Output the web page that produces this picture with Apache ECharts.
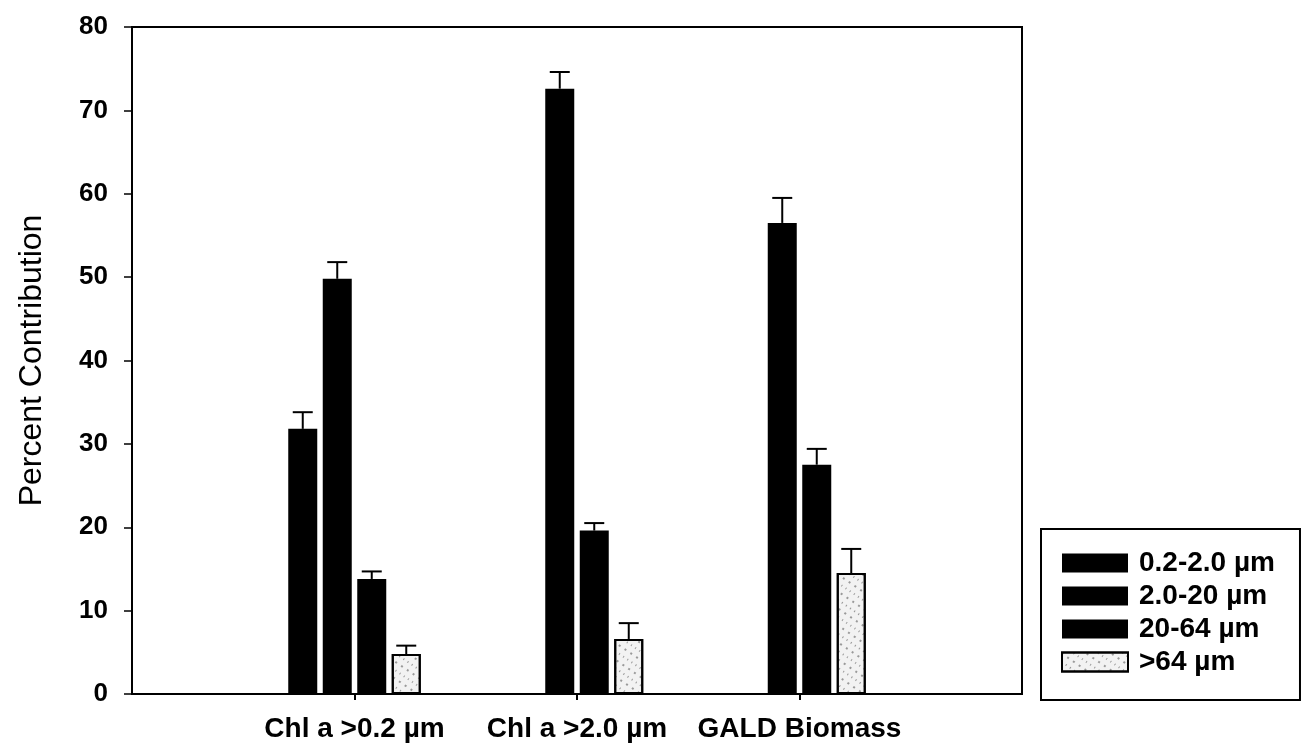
<!DOCTYPE html>
<html>
<head>
<meta charset="utf-8">
<title>Percent Contribution</title>
<script src="https://cdn.jsdelivr.net/npm/echarts@6/dist/echarts.min.js"></script>
<style>
  html, body { margin: 0; padding: 0; background: #fff; }
  #J_chart { width: 1303px; height: 750px; }
</style>
</head>
<body>
<div id="J_chart"></div>
<script>
// categories (empty slots at both ends keep the groups at 1, 2, 3)
var categories = ['', 'Chl a >0.2 \u00b5m', 'Chl a >2.0 \u00b5m', 'GALD Biomass', ''];
var seriesNames = ['0.2-2.0 \u00b5m', '2.0-20 \u00b5m', '20-64 \u00b5m', '>64 \u00b5m'];

// percent contribution per size fraction
var pico = ['-', 31.8, '-', '-', '-'];
var nano = ['-', 49.8, 72.6, 56.5, '-'];
var micro = ['-', 13.8, 19.6, 27.5, '-'];
var meso = ['-', 4.8, 6.6, 14.5, '-'];

// upper error (same units)
var picoErr = ['-', 2.0, '-', '-', '-'];
var nanoErr = ['-', 2.0, 2.0, 3.0, '-'];
var microErr = ['-', 0.9, 0.9, 1.9, '-'];
var mesoErr = ['-', 1.0, 1.9, 2.9, '-'];

var yTicks = [0, 10, 20, 30, 40, 50, 60, 70, 80];

var FONT = 'Arial, "Liberation Sans", sans-serif';
var BAR_W = 29;
var BAR_GAP = 5.5;

var values = [pico, nano, micro, meso];
var errors = [picoErr, nanoErr, microErr, mesoErr];

// error bar data: [category, seriesIndex, value, err]
var errData = [];
for (var s = 0; s < values.length; s++) {
    for (var i = 0; i < categories.length; i++) {
        if (values[s][i] !== '-') {
            errData.push([i, s, values[s][i], errors[s][i]]);
        }
    }
}

var series = [];
for (var k = 0; k < seriesNames.length; k++) {
    var isMeso = (k === 3);
    series.push({
        name: seriesNames[k],
        type: 'bar',
        barWidth: BAR_W,
        barGap: (BAR_GAP / BAR_W * 100) + '%',
        data: values[k],
        itemStyle: isMeso ? {
            color: '#f2f2f2',
            borderColor: '#000',
            borderWidth: 2,
            decal: {
                symbol: 'rect',
                symbolSize: 0.7,
                color: 'rgba(0,0,0,0.7)',
                dashArrayX: [[1, 4], [2, 5]],
                dashArrayY: [2, 5],
                rotation: 0.6
            }
        } : {
            color: '#000'
        }
    });
}

series.push({
    type: 'custom',
    silent: true,
    z: 5,
    data: errData,
    renderItem: function (params, api) {
        var cat = api.value(0);
        var idx = api.value(1);
        var v = api.value(2);
        var e = api.value(3);
        var base = api.coord([cat, v]);
        var top = api.coord([cat, v + e]);
        var x = base[0] + (idx - 1.5) * (BAR_W + BAR_GAP);
        var style = { stroke: '#000', lineWidth: 2 };
        return {
            type: 'group',
            children: [
                { type: 'line', shape: { x1: x, y1: base[1], x2: x, y2: top[1] }, style: style },
                { type: 'line', shape: { x1: x - 10, y1: top[1], x2: x + 10, y2: top[1] }, style: style }
            ]
        };
    }
});

var chart = echarts.init(document.getElementById('J_chart'));
chart.setOption({
    animation: false,
    backgroundColor: '#fff',
    textStyle: { fontFamily: FONT, color: '#000' },
    grid: {
        left: 132,
        right: 281,
        top: 27,
        bottom: 56,
        show: true,
        borderColor: '#000',
        borderWidth: 2,
        backgroundColor: 'transparent'
    },
    legend: {
        orient: 'vertical',
        left: 1041,
        top: 529,
        padding: [20, 25, 24, 20],
        borderColor: '#000',
        borderWidth: 2,
        itemWidth: 66,
        itemHeight: 19,
        itemGap: 5,
        icon: 'rect',
        data: seriesNames,
        textStyle: {
            fontFamily: FONT,
            fontSize: 28,
            fontWeight: 'bold',
            color: '#000',
            padding: [0, 0, 0, 6]
        }
    },
    xAxis: {
        type: 'category',
        data: categories,
        boundaryGap: false,
        axisLine: { lineStyle: { color: '#000', width: 2 } },
        axisTick: {
            length: 6,
            lineStyle: { color: '#000', width: 2 },
            interval: function (index) { return index > 0 && index < categories.length - 1; }
        },
        axisLabel: {
            interval: 0,
            margin: 21,
            fontFamily: FONT,
            fontSize: 28,
            fontWeight: 'bold',
            color: '#000'
        },
        splitLine: { show: false }
    },
    yAxis: {
        type: 'value',
        min: yTicks[0],
        max: yTicks[yTicks.length - 1],
        interval: 10,
        name: 'Percent Contribution',
        nameLocation: 'middle',
        nameGap: 84,
        nameTextStyle: { fontFamily: FONT, fontSize: 32, color: '#000' },
        axisLine: { show: true, lineStyle: { color: '#000', width: 2 } },
        axisTick: { show: true, length: 8, lineStyle: { color: '#000', width: 1.5 } },
        axisLabel: {
            margin: 24,
            fontFamily: FONT,
            fontSize: 26,
            fontWeight: 'bold',
            color: '#000'
        },
        splitLine: { show: false }
    },
    series: series
});
</script>
</body>
</html>
